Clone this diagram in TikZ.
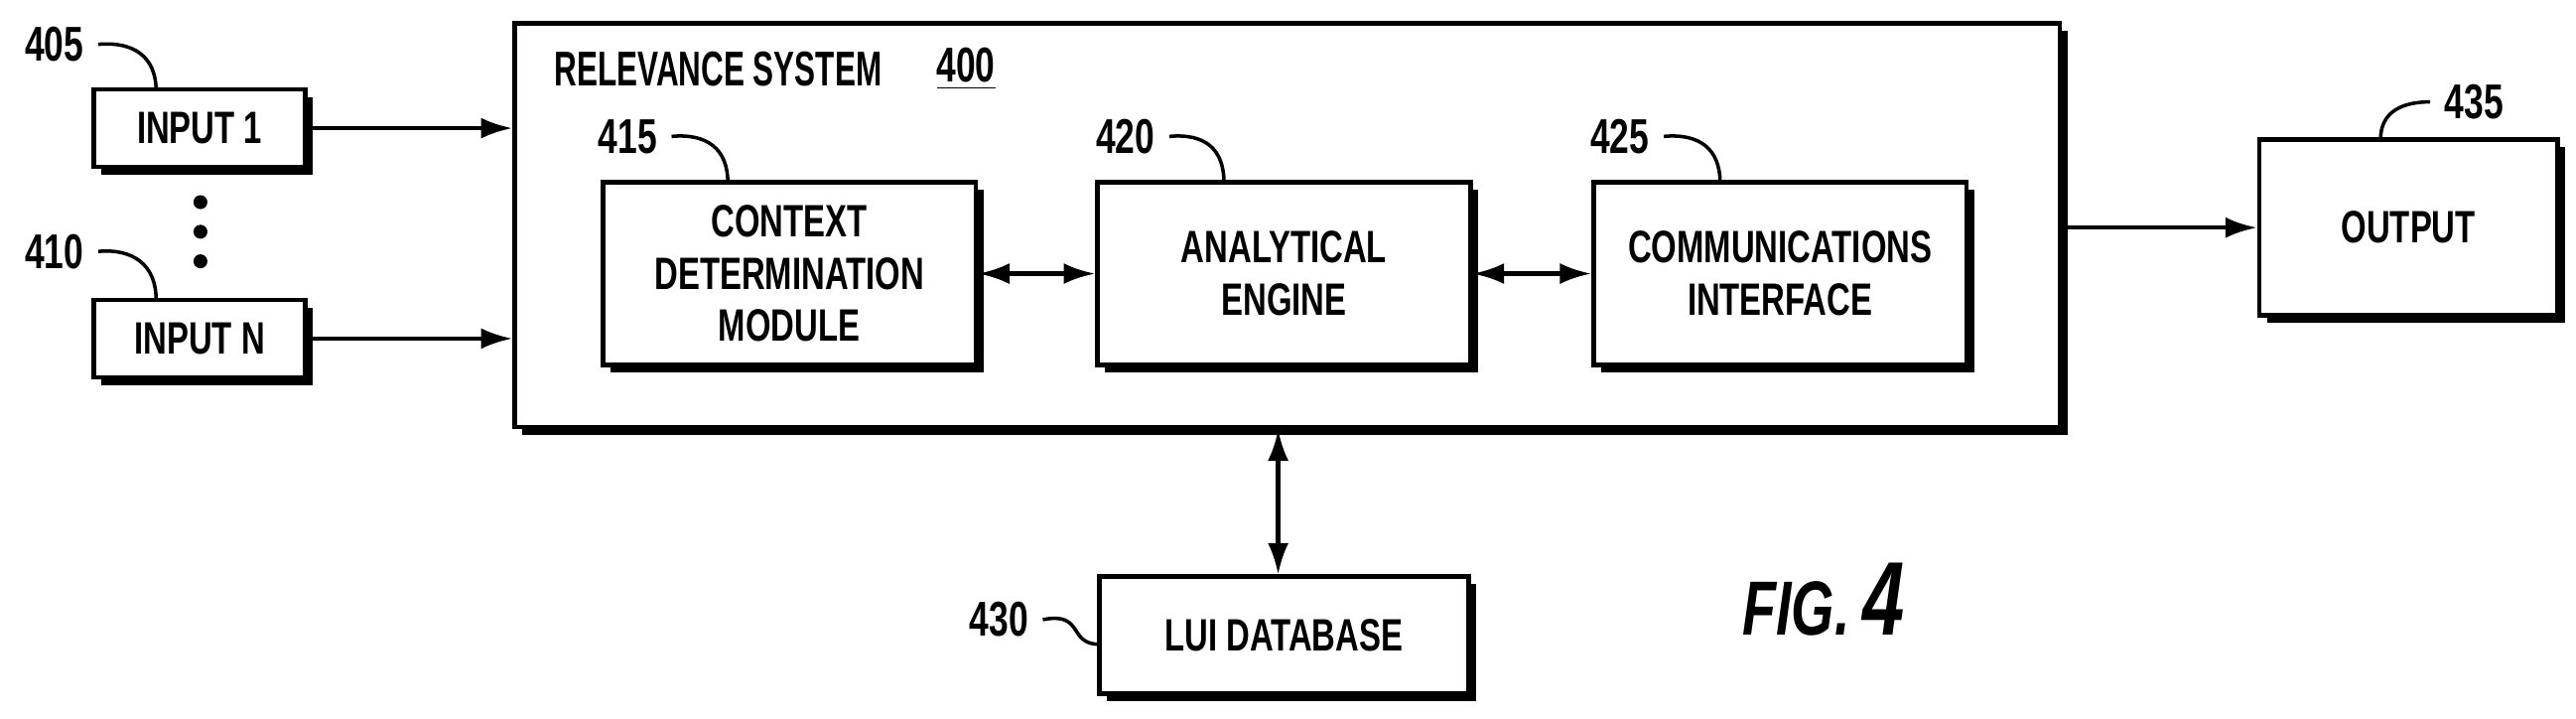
\documentclass[tikz,border=0pt]{standalone}
\usepackage{fontspec}
\setmainfont{Liberation Sans}[FakeStretch=0.72]
\newfontfamily\narrowfont{Liberation Sans}[FakeStretch=0.64]
\usetikzlibrary{shadows,arrows.meta}
\begin{document}
\begin{tikzpicture}[x=0.01655cm,y=-0.01655cm,
  box/.style={draw,line width=1.3pt,fill=white,align=center,inner sep=0pt,
    font=\bfseries\fontsize{13}{15}\selectfont,
    drop shadow={shadow xshift=2.2pt,shadow yshift=-2.2pt,fill=black,opacity=1}},
  lbl/.style={font=\bfseries\fontsize{14}{16}\selectfont,inner sep=0pt},
  lead/.style={line width=1pt},
  arr/.style={line width=1.2pt,-{Latex[length=9pt,width=6pt]}},
  darr/.style={line width=1.2pt,{Latex[length=9pt,width=6pt]}-{Latex[length=9pt,width=6pt]}}]
\useasboundingbox (0,0) rectangle (1568,437);
\node[box,minimum width=15.57cm,minimum height=4.07cm] (sys) at (783.5,137) {};
\node[box,minimum width=2.13cm,minimum height=0.78cm] (in1) at (121.5,78) {INPUT 1};
\node[box,minimum width=2.13cm,minimum height=0.78cm] (inN) at (121.5,206) {INPUT N};
\node[box,minimum width=3.76cm,minimum height=1.84cm] (ctx) at (480.5,166.5) {CONTEXT\\DETERMINATION\\MODULE};
\node[box,minimum width=3.76cm,minimum height=1.84cm] (ana) at (781.5,166.5) {ANALYTICAL\\ENGINE};
\node[box,minimum width=3.76cm,minimum height=1.84cm] (com) at (1083.5,166.5) {COMMUNICATIONS\\INTERFACE};
\node[box,minimum width=3.01cm,minimum height=1.77cm] (out) at (1466,138.5) {OUTPUT};
\node[box,minimum width=3.72cm,minimum height=1.18cm] (lui) at (781.5,386.5) {LUI DATABASE};
\node[lbl,anchor=west,font=\narrowfont\bfseries\fontsize{14}{16}\selectfont] (sysl) at (337,42) {RELEVANCE SYSTEM};
\node[lbl,anchor=center] (sysn) at (588,42) {\underline{400}};
\foreach \y [count=\i] in {123,141,159} \fill (122,\y) circle (2pt) coordinate (d\i);
\node[lbl] (l405) at (33,27) {405};
\node[lbl] (l410) at (33,153) {410};
\node[lbl] (l415) at (382,83) {415};
\node[lbl] (l420) at (685,83) {420};
\node[lbl] (l425) at (986,83) {425};
\node[lbl] (l435) at (1506,62) {435};
\node[lbl] (l430) at (608,377) {430};
\node[font=\bfseries\itshape\fontsize{22}{24}\selectfont,inner sep=0pt] (fig) at (1110,365) {FIG.\,\fontsize{30}{32}\selectfont 4};
\draw[lead] ([xshift=4]l405.east) .. controls +(22,-2) and (95,35) .. (95,55);
\draw[lead] ([xshift=4]l410.east) .. controls +(22,-2) and (95,162) .. (95,182);
\draw[lead] ([xshift=4]l415.east) .. controls +(22,-2) and (443,91) .. (443,111);
\draw[lead] ([xshift=4]l420.east) .. controls +(22,-2) and (745,91) .. (745,111);
\draw[lead] ([xshift=4]l425.east) .. controls +(22,-2) and (1047,91) .. (1047,111);
\draw[lead] (1449,85) .. controls (1449,68) and (1462,62) .. ([xshift=-4]l435.west);
\draw[lead] ([xshift=4]l430.east) .. controls (660,372) and (650,392) .. (669,392);
\draw[arr] (in1.east) -- (in1.east-|sys.west);
\draw[arr] (inN.east) -- (inN.east-|sys.west);
\draw[darr] (ctx.east) -- (ana.west);
\draw[darr] (ana.east) -- (com.west);
\draw[arr] (sys.east|-out.west) -- (out.west);
\draw[darr] (sys.south-|778,0) -- (lui.north-|778,0);
\end{tikzpicture}
\end{document}
